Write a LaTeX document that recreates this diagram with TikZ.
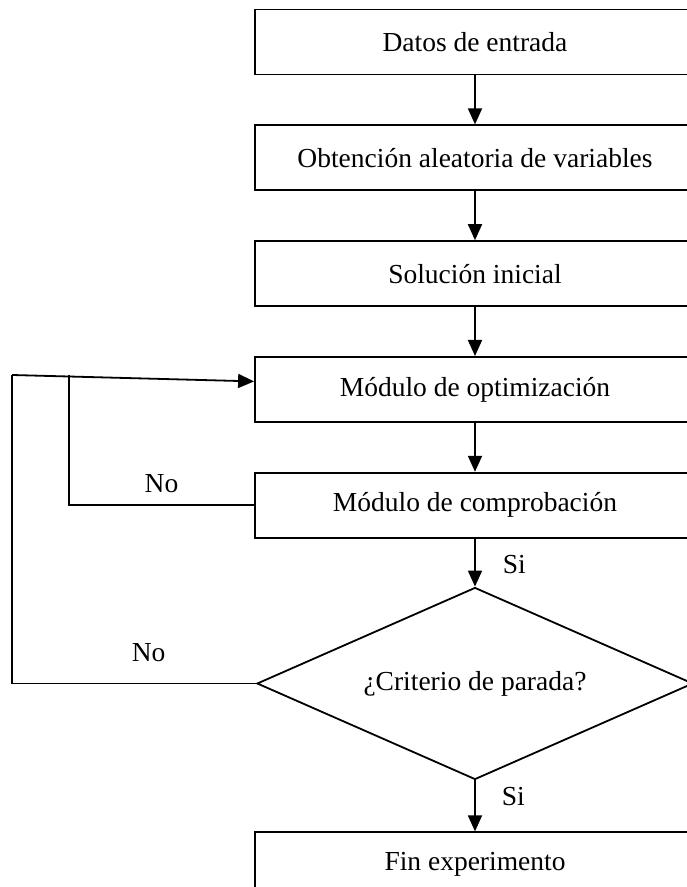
\documentclass[tikz,border=0pt]{standalone}
\usepackage{fontspec}
\setmainfont{Liberation Serif}
\usetikzlibrary{positioning,shapes.geometric,arrows.meta}
\begin{document}
\begin{tikzpicture}[x=1pt, y=1pt,
    every node/.style={font=\fontsize{27.5}{33}\selectfont, align=center, inner sep=3pt},
    box/.style={draw, line width=1.8pt, minimum height=65pt, minimum width=440pt},
    decision/.style={draw, diamond, line width=1.8pt, aspect=2.3, inner sep=0pt,
                     minimum width=436pt, minimum height=192pt},
    arrow/.style={-{Triangle[length=16pt, width=14pt]}, line width=1.8pt},
    link/.style={line width=1.8pt},
  ]
  \clip (0,0) rectangle (687,887);
  \node[box] (datos) at (475,845) {Datos de entrada};
  \node[box, below=49pt of datos] (obt) {Obtención aleatoria de variables};
  \node[box, below=49pt of obt] (sol) {Solución inicial};
  \node[box, below=49pt of sol] (opt) {Módulo de optimización};
  \node[box, below=49pt of opt] (comp) {Módulo de comprobación};
  \node[decision, below=48pt of comp] (crit) {¿Criterio de parada?};
  \node[box, below=51pt of crit] (fin) {Fin experimento};

  \coordinate (outer) at (12,512);
  \coordinate (inner) at (69,511.5);

  \draw[arrow] (datos) -- (obt);
  \draw[arrow] (obt) -- (sol);
  \draw[arrow] (sol) -- (opt);
  \draw[arrow] (opt) -- (comp);
  \draw[arrow] (comp) -- node[pos=0.55, right=24pt] {Si} (crit);
  \draw[arrow] (crit) -- node[pos=0.31, right=23pt] {Si} (fin);

  \draw[link] (comp.west) -| node[pos=0.25, above=9pt] {No} (inner);
  \draw[link] (crit.west) -| node[pos=0.22, above=18pt] {No} (outer);
  \draw[arrow] (outer) -- ([yshift=8pt]opt.west);
\end{tikzpicture}
\end{document}
